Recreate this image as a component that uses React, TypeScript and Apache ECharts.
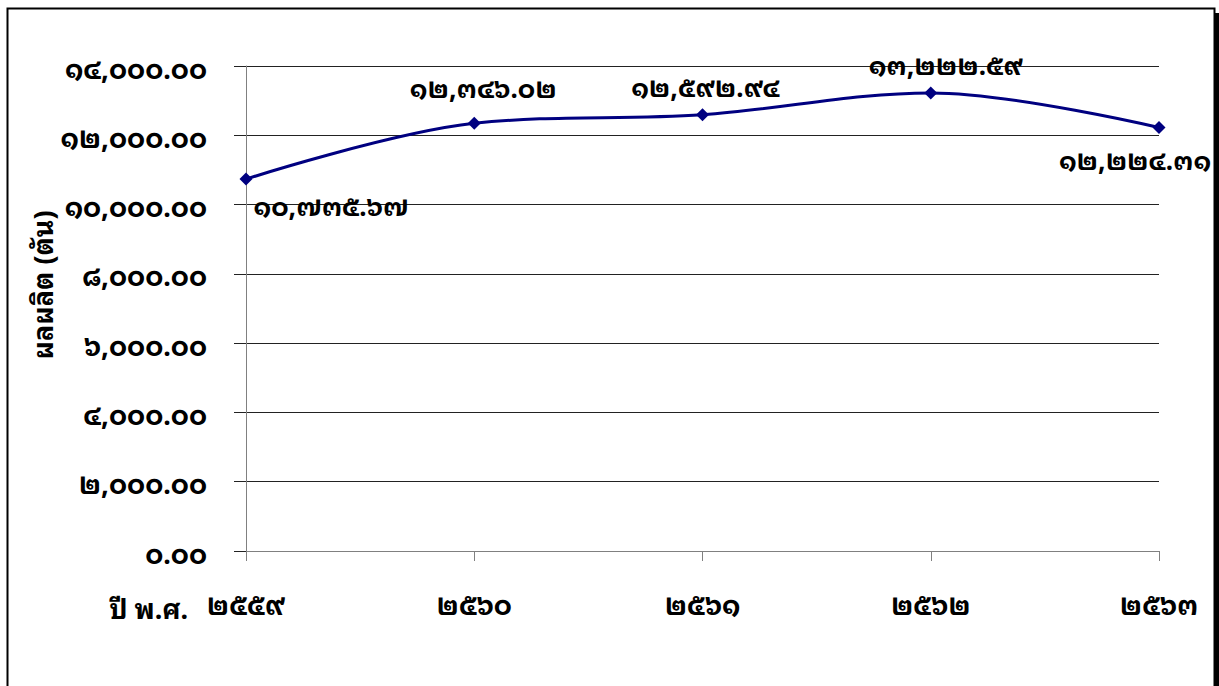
import React, { useEffect, useRef } from "react";
import * as echarts from "echarts";

const categories = ["๒๕๕๙", "๒๕๖๐", "๒๕๖๑", "๒๕๖๒", "๒๕๖๓"];
const production = [10735.67, 12346.02, 12592.94, 13222.59, 12224.31];
const yAxisTitle = "ผลผลิต (ตัน)";
const xAxisTitle = "ปี พ.ศ.";

const labelOffsets: [number, number][] = [
  [85, 25],
  [9, -37],
  [3, -30],
  [15, -30],
  [-24, 30],
];

const thaiDigits = "๐๑๒๓๔๕๖๗๘๙";
function toThai(s: string): string {
  return s.replace(/[0-9]/g, (d) => thaiDigits[Number(d)]);
}
function fmt(v: number): string {
  return toThai(
    v.toLocaleString("en-US", { minimumFractionDigits: 2, maximumFractionDigits: 2 })
  );
}

const FONT = "'Noto Sans Thai Looped', 'Noto Sans Thai', sans-serif";
const FS = 27;

export default function App() {
  const ref = useRef<HTMLDivElement>(null);
  useEffect(() => {
    if (!ref.current) return;
    const chart = echarts.init(ref.current, undefined, { renderer: "svg" });
    chart.setOption({
      animation: false,
      backgroundColor: "#ffffff",
      textStyle: { fontFamily: FONT },
      grid: { left: 246, right: 60, top: 66, bottom: 135, containLabel: false },
      xAxis: {
        type: "category",
        data: categories,
        boundaryGap: false,
        axisLine: { lineStyle: { color: "#808080", width: 1 } },
        axisTick: { show: true, length: 10, inside: false, lineStyle: { color: "#808080" } },
        axisLabel: {
          margin: 38,
          color: "#000",
          fontSize: FS,
          fontWeight: "bold",
          fontFamily: FONT,
        },
        splitLine: { show: false },
      },
      yAxis: {
        type: "value",
        min: 0,
        max: 14000,
        interval: 2000,
        axisLine: { show: true, lineStyle: { color: "#808080", width: 1 } },
        axisTick: { show: true, length: 12, lineStyle: { color: "#222" } },
        axisLabel: {
          margin: 39,
          color: "#000",
          fontSize: FS,
          fontWeight: "bold",
          fontFamily: FONT,
          formatter: (v: number) => fmt(v),
        },
        splitLine: { show: true, lineStyle: { color: "#222", width: 1 } },
      },
      series: [
        {
          type: "line",
          smooth: 0.35,
          data: production.map((v, i) => ({
            value: v,
            label: {
              offset: labelOffsets[i],
            },
          })),
          symbol: "diamond",
          symbolSize: 13,
          lineStyle: { color: "#000080", width: 3 },
          itemStyle: { color: "#000080" },
          label: {
            show: true,
            position: "inside",
            color: "#000",
            fontSize: 26,
            fontWeight: "bold",
            fontFamily: FONT,
            formatter: (p: any) => fmt(p.value),
          },
        },
      ],
      graphic: [
        {
          type: "rect",
          shape: { x: 7.5, y: 8.5, width: 1207, height: 720 },
          style: { fill: "none", stroke: "#000", lineWidth: 2 },
          silent: true,
          z: -1,
        },
        {
          type: "rect",
          shape: { x: 1215, y: 13, width: 5, height: 700 },
          style: { fill: "#000" },
          silent: true,
        },
        {
          type: "text",
          x: 40,
          y: 285,
          rotation: Math.PI / 2,
          style: {
            text: yAxisTitle,
            fontSize: FS,
            fontWeight: "bold",
            fontFamily: FONT,
            fill: "#000",
            align: "center",
            verticalAlign: "middle",
          },
        },
        {
          type: "text",
          x: 188,
          y: 606,
          style: {
            text: xAxisTitle,
            fontSize: FS,
            fontWeight: "bold",
            fontFamily: FONT,
            fill: "#000",
            align: "right",
            verticalAlign: "middle",
          },
        },
      ],
    });
    return () => chart.dispose();
  }, []);
  return (
    <div
      ref={ref}
      style={{ position: "fixed", left: 0, top: 0, width: 1219, height: 686 }}
    />
  );
}
